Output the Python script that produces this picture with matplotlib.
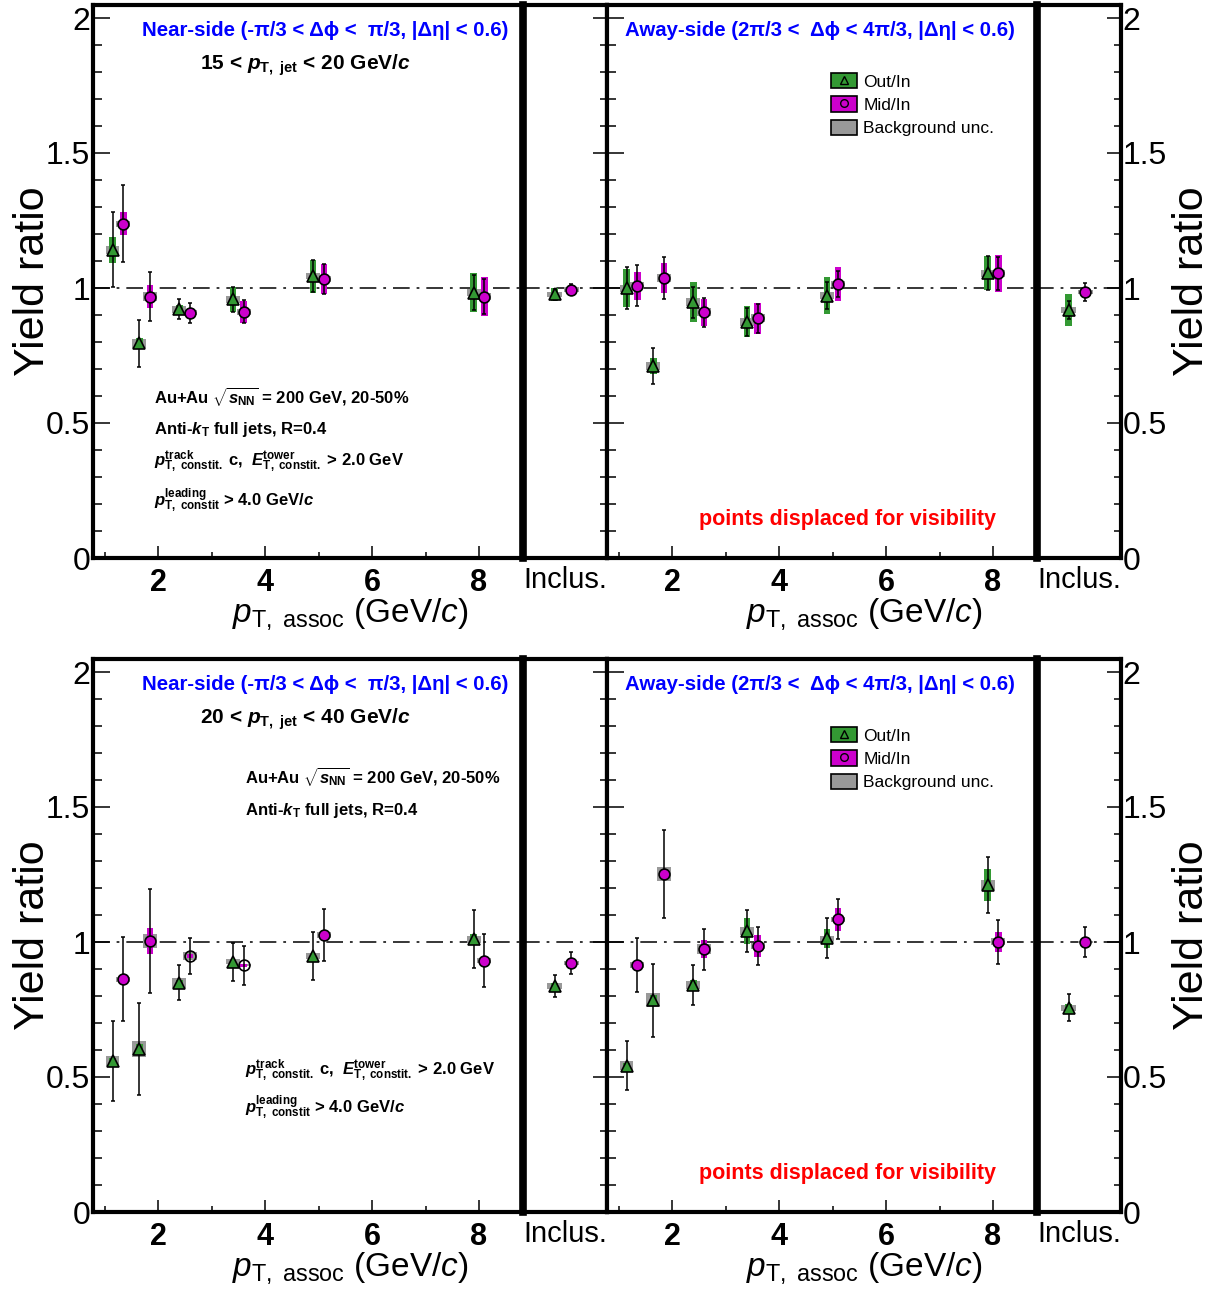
import matplotlib
matplotlib.use('Agg')
import matplotlib.pyplot as plt
import numpy as np
from matplotlib.patches import Patch
from matplotlib.lines import Line2D
from matplotlib.legend_handler import HandlerTuple
from matplotlib.ticker import FixedLocator, MultipleLocator, NullLocator

plt.rcParams['font.family'] = ['Liberation Sans', 'DejaVu Sans']
plt.rcParams['mathtext.fontset'] = 'custom'
plt.rcParams['mathtext.rm'] = 'Liberation Sans'
plt.rcParams['mathtext.it'] = 'Liberation Sans:italic'
plt.rcParams['mathtext.bf'] = 'Liberation Sans:bold'
plt.rcParams['mathtext.bfit'] = 'Liberation Sans:italic:bold'
plt.rcParams['lines.scale_dashes'] = False

# ---------------- data ----------------
bin_centers = [1.25, 1.75, 2.5, 3.5, 5.0, 8.0]
x_major_ticks = [2, 4, 6, 8]
x_tick_labels = ['2', '4', '6', '8']
y_major_ticks = [0, 0.5, 1, 1.5, 2]
y_tick_labels = ['0', '0.5', '1', '1.5', '2']
incl_label = ['Inclus.']

# Near-side, 15 < pT,jet < 20
ns1520_out_y = [1.141, 0.795, 0.921, 0.958, 1.044, 0.983]
ns1520_out_stat = [0.139, 0.088, 0.037, 0.047, 0.058, 0.066]
ns1520_out_sys = [0.048, 0.020, 0.015, 0.047, 0.061, 0.072]
ns1520_out_bkg = [0.015, 0.017, 0.012, 0.014, 0.010, 0.012]
ns1520_mid_y = [1.238, 0.968, 0.909, 0.912, 1.033, 0.968]
ns1520_mid_stat = [0.143, 0.090, 0.037, 0.043, 0.055, 0.065]
ns1520_mid_sys = [0.043, 0.042, 0.010, 0.041, 0.055, 0.071]
ns1520_mid_bkg = [0.012, 0.017, 0.010, 0.012, 0.010, 0.012]
ns1520_incl_out = [0.976, 0.020, 0.025, 0.008]   # value, stat, sys, bkg
ns1520_incl_mid = [0.994, 0.020, 0.010, 0.008]

# Away-side, 15 < pT,jet < 20
as1520_out_y = [0.999, 0.711, 0.947, 0.875, 0.972, 1.054]
as1520_out_stat = [0.078, 0.068, 0.058, 0.051, 0.050, 0.063]
as1520_out_sys = [0.071, 0.030, 0.074, 0.057, 0.067, 0.063]
as1520_out_bkg = [0.012, 0.015, 0.015, 0.015, 0.012, 0.012]
as1520_mid_y = [1.009, 1.038, 0.910, 0.888, 1.015, 1.054]
as1520_mid_stat = [0.077, 0.078, 0.053, 0.054, 0.048, 0.061]
as1520_mid_sys = [0.052, 0.056, 0.050, 0.057, 0.062, 0.067]
as1520_mid_bkg = [0.012, 0.015, 0.015, 0.015, 0.012, 0.012]
as1520_incl_out = [0.919, 0.033, 0.058, 0.010]
as1520_incl_mid = [0.985, 0.033, 0.010, 0.008]

# Near-side, 20 < pT,jet < 40
ns2040_out_y = [0.559, 0.604, 0.849, 0.927, 0.948, 1.010]
ns2040_out_stat = [0.147, 0.170, 0.065, 0.070, 0.089, 0.108]
ns2040_out_sys = [0.012, 0.020, 0.010, 0.008, 0.008, 0.020]
ns2040_out_bkg = [0.018, 0.031, 0.018, 0.010, 0.010, 0.012]
ns2040_mid_y = [0.862, 1.005, 0.948, 0.914, 1.026, 0.931]
ns2040_mid_stat = [0.155, 0.193, 0.068, 0.072, 0.095, 0.098]
ns2040_mid_sys = [0.010, 0.048, 0.006, 0.006, 0.010, 0.010]
ns2040_mid_bkg = [0.010, 0.026, 0.015, 0.003, 0.010, 0.010]
ns2040_mid_open = [False, False, True, True, False, False]
ns2040_incl_out = [0.837, 0.040, 0.010, 0.010]
ns2040_incl_mid = [0.922, 0.040, 0.008, 0.008]

# Away-side, 20 < pT,jet < 40
as2040_out_y = [0.542, 0.785, 0.841, 1.041, 1.014, 1.211]
as2040_out_stat = [0.090, 0.135, 0.073, 0.077, 0.074, 0.102]
as2040_out_sys = [0.010, 0.020, 0.020, 0.047, 0.035, 0.060]
as2040_out_bkg = [0.017, 0.027, 0.015, 0.015, 0.010, 0.018]
as2040_mid_y = [0.915, 1.252, 0.974, 0.985, 1.084, 1.001]
as2040_mid_stat = [0.100, 0.163, 0.076, 0.070, 0.074, 0.082]
as2040_mid_sys = [0.008, 0.010, 0.035, 0.040, 0.043, 0.037]
as2040_mid_bkg = [0.010, 0.025, 0.020, 0.010, 0.010, 0.012]
as2040_incl_out = [0.756, 0.050, 0.015, 0.010]
as2040_incl_mid = [1.000, 0.055, 0.006, 0.005]

near_title = "Near-side (-π/3 < Δϕ <  π/3, |Δη| < 0.6)"
away_title = "Away-side (2π/3 <  Δϕ < 4π/3, |Δη| < 0.6)"
jet_bins = [r"15 < $\mathbfit{p}_{\mathbf{T,\ jet}}$ < 20 GeV/$\mathbfit{c}$",
            r"20 < $\mathbfit{p}_{\mathbf{T,\ jet}}$ < 40 GeV/$\mathbfit{c}$"]
info_lines = [r"Au+Au $\sqrt{\mathbfit{s}_{\mathbf{NN}}}$ = 200 GeV, 20-50%",
              r"Anti-$\mathbfit{k}_{\mathbf{T}}$ full jets, R=0.4",
              r"$\mathbfit{p}^{\mathbf{track}}_{\mathbf{T,\ constit.}}$ c,  $\mathbfit{E}^{\mathbf{tower}}_{\mathbf{T,\ constit.}}$ > 2.0 GeV",
              r"$\mathbfit{p}^{\mathbf{leading}}_{\mathbf{T,\ constit}}$ > 4.0 GeV/$\mathbfit{c}$"]
legend_labels = ['Out/In', 'Mid/In', 'Background unc.']
displaced_note = 'points displaced for visibility'
xlabel_text = r"$p_{\rm T,\ assoc}$ (GeV/$c$)"
ylabel_text = 'Yield ratio'

# ---------------- style ----------------
GREEN = '#339933'
MAGENTA = '#cc00cc'
GRAY = '#999999'
W, H = 1228, 1303
SHIFT = 0.1
INCL_OUT_X, INCL_MID_X = 0.375, 0.575

fig = plt.figure(figsize=(W / 100, H / 100), dpi=100)


def add_axes_px(x0, x1, ytop, ybot):
    return fig.add_axes([x0 / W, 1 - ybot / H, (x1 - x0) / W, (ybot - ytop) / H])


def ftext(x, y, s, **kw):
    return fig.text(x / W, 1 - y / H, s, **kw)


def draw_series(ax, x, y, stat, sys, bkg, color, marker, ms, hw_sys, hw_bkg, open_mask=None):
    x = np.asarray(x, float); y = np.asarray(y, float)
    stat = np.asarray(stat, float); sys = np.asarray(sys, float); bkg = np.asarray(bkg, float)
    if open_mask is None:
        open_mask = np.zeros(len(x), bool)
    open_mask = np.asarray(open_mask, bool)
    ax.bar(x, 2 * bkg, bottom=y - bkg, width=2 * hw_bkg, color=GRAY, lw=0, zorder=2)
    ax.bar(x, 2 * sys, bottom=y - sys, width=2 * hw_sys, color=color, lw=0, zorder=3)
    ax.errorbar(x, y, yerr=stat, fmt='none', ecolor='k', elinewidth=1.1,
                capsize=1.7, capthick=1.1, zorder=4)
    f = ~open_mask
    ax.plot(x[f], y[f], ls='none', marker=marker, ms=ms, mfc=color, mec='k', mew=1.2, zorder=5)
    if open_mask.any():
        ax.plot(x[open_mask], y[open_mask], ls='none', marker=marker, ms=ms,
                mfc='none', mec='k', mew=1.2, zorder=5)


def setup_main(ax, show_ylabels):
    ax.set_xlim(0.785, 8.822)
    ax.set_ylim(0, 2.05)
    ax.xaxis.set_major_locator(FixedLocator(x_major_ticks))
    ax.set_xticklabels(x_tick_labels)
    ax.xaxis.set_minor_locator(MultipleLocator(1))
    ax.yaxis.set_major_locator(FixedLocator(y_major_ticks))
    ax.set_yticklabels(y_tick_labels)
    ax.yaxis.set_minor_locator(MultipleLocator(0.1))
    ax.tick_params(axis='y', which='major', direction='in', length=12, width=1.1,
                   left=True, right=False, labelleft=show_ylabels, labelsize=23, pad=2)
    ax.tick_params(axis='y', which='minor', direction='in', length=6.5, width=1.1,
                   left=True, right=False)
    ax.tick_params(axis='x', which='major', direction='in', length=8.6, width=1.1,
                   bottom=True, top=False, labelsize=22, pad=7)
    ax.tick_params(axis='x', which='minor', direction='in', length=4.3, width=1.1,
                   bottom=True, top=False)
    for lab in ax.get_xticklabels():
        lab.set_fontweight('bold')
    for s in ['left', 'top', 'bottom']:
        ax.spines[s].set_linewidth(3)
    ax.spines['right'].set_visible(False)
    ax.axhline(1, color='k', lw=1.1, dashes=(12, 5, 2, 5), zorder=1.5)


def setup_incl(ax, show_ylabels):
    ax.set_xlim(0, 1)
    ax.set_ylim(0, 2.05)
    ax.xaxis.set_major_locator(FixedLocator([0.5]))
    ax.set_xticklabels(incl_label)
    ax.xaxis.set_minor_locator(NullLocator())
    ax.tick_params(axis='x', which='major', length=0, labelsize=21, pad=6)
    ax.yaxis.set_major_locator(FixedLocator(y_major_ticks))
    ax.set_yticklabels(y_tick_labels)
    ax.yaxis.set_minor_locator(MultipleLocator(0.1))
    ax.tick_params(axis='y', which='major', direction='in', length=10, width=1.1,
                   left=False, right=True, labelleft=False, labelright=show_ylabels,
                   labelsize=23, pad=1)
    ax.tick_params(axis='y', which='minor', direction='in', length=5, width=1.1,
                   left=False, right=True)
    ax.spines['left'].set_linewidth(5.5)
    for s in ['right', 'top', 'bottom']:
        ax.spines[s].set_linewidth(3)
    ax.axhline(1, color='k', lw=1.1, dashes=(12, 5, 2, 5), zorder=1.5)


rows = [(4.5, 558.0), (658.5, 1212.0)]
cols = [(93, 523), (523, 607), (607, 1037), (1037, 1121)]

panels = [
    [dict(out=(ns1520_out_y, ns1520_out_stat, ns1520_out_sys, ns1520_out_bkg),
          mid=(ns1520_mid_y, ns1520_mid_stat, ns1520_mid_sys, ns1520_mid_bkg),
          mid_open=None, incl=(ns1520_incl_out, ns1520_incl_mid)),
     dict(out=(as1520_out_y, as1520_out_stat, as1520_out_sys, as1520_out_bkg),
          mid=(as1520_mid_y, as1520_mid_stat, as1520_mid_sys, as1520_mid_bkg),
          mid_open=None, incl=(as1520_incl_out, as1520_incl_mid))],
    [dict(out=(ns2040_out_y, ns2040_out_stat, ns2040_out_sys, ns2040_out_bkg),
          mid=(ns2040_mid_y, ns2040_mid_stat, ns2040_mid_sys, ns2040_mid_bkg),
          mid_open=ns2040_mid_open, incl=(ns2040_incl_out, ns2040_incl_mid)),
     dict(out=(as2040_out_y, as2040_out_stat, as2040_out_sys, as2040_out_bkg),
          mid=(as2040_mid_y, as2040_mid_stat, as2040_mid_sys, as2040_mid_bkg),
          mid_open=None, incl=(as2040_incl_out, as2040_incl_mid))],
]

bc = np.asarray(bin_centers)
for r, (yt, yb) in enumerate(rows):
    for side in range(2):
        axm = add_axes_px(*cols[2 * side], yt, yb)
        axi = add_axes_px(*cols[2 * side + 1], yt, yb)
        setup_main(axm, side == 0)
        setup_incl(axi, side == 1)
        p = panels[r][side]
        draw_series(axm, bc - SHIFT, *p['out'], GREEN, '^', 8.5, 0.062, 0.13)
        draw_series(axm, bc + SHIFT, *p['mid'], MAGENTA, 'o', 7.8, 0.062, 0.13, p['mid_open'])
        io, im = p['incl']
        draw_series(axi, [INCL_OUT_X], [io[0]], [io[1]], [io[2]], [io[3]], GREEN, '^', 8.5, 0.038, 0.09)
        draw_series(axi, [INCL_MID_X], [im[0]], [im[1]], [im[2]], [im[3]], MAGENTA, 'o', 7.8, 0.038, 0.09)
        if side == 1:
            handles = [(Patch(fc=GREEN, ec='k', lw=1.2),
                        Line2D([], [], ls='none', marker='^', ms=5.5, mfc=GREEN, mec='k', mew=1.0)),
                       (Patch(fc=MAGENTA, ec='k', lw=1.2),
                        Line2D([], [], ls='none', marker='o', ms=5.5, mfc=MAGENTA, mec='k', mew=1.0)),
                       Patch(fc=GRAY, ec='k', lw=1.2)]
            axm.legend(handles, legend_labels, handler_map={tuple: HandlerTuple(ndivide=1)},
                       loc='upper left', bbox_to_anchor=(0.521, 0.876), frameon=False,
                       fontsize=12.5, handlelength=1.5, handleheight=0.98, labelspacing=0.38,
                       handletextpad=0.35, borderpad=0, borderaxespad=0)

    off = rows[r][0] - rows[0][0]
    # titles
    ftext(325.5, 31 + off, near_title, ha='center', va='center', color='blue',
          fontsize=14.7, fontweight='bold')
    ftext(820, 31 + off, away_title, ha='center', va='center', color='blue',
          fontsize=14.7, fontweight='bold')
    ftext(305, 70 + off, jet_bins[r], ha='center', va='baseline', fontsize=15, fontweight='bold')
    ftext(699, 525 + off, displaced_note, ha='left', va='baseline', color='red',
          fontsize=15.5, fontweight='bold')
    # axis labels
    yc = (rows[r][0] + rows[r][1]) / 2
    ftext(33, yc, ylabel_text, rotation=90, ha='center', va='center', fontsize=31)
    ftext(1192, yc, ylabel_text, rotation=90, ha='center', va='center', fontsize=31)
    ftext(350, 622 + off, xlabel_text, ha='center', va='baseline', fontsize=24)
    ftext(864, 622 + off, xlabel_text, ha='center', va='baseline', fontsize=24)

# info text blocks
info_pos_top = [(154, 403), (154, 434), (154, 466), (154, 506)]
info_pos_bot = [(245, 783), (245, 815), (245, 1075), (245, 1113)]
for s, (x, y) in zip(info_lines, info_pos_top):
    ftext(x, y, s, ha='left', va='baseline', fontsize=12, fontweight='bold')
for s, (x, y) in zip(info_lines, info_pos_bot):
    ftext(x, y, s, ha='left', va='baseline', fontsize=12, fontweight='bold')

fig.savefig('out.png', dpi=100)
